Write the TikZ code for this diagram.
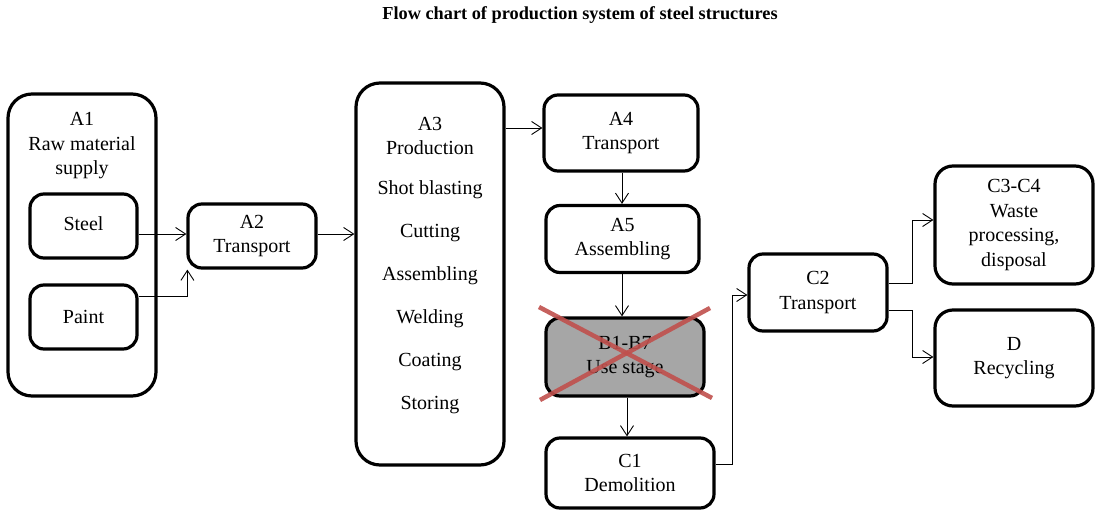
\documentclass[tikz,border=0pt]{standalone}
\usepackage{fontspec}
\setmainfont{Liberation Serif}
\usetikzlibrary{arrows.meta}
\definecolor{crossred}{RGB}{192,80,77}
\definecolor{usegray}{RGB}{166,166,166}
\tikzset{
  box/.style={draw=black, line width=3.2pt, rounded corners=14pt, inner sep=0pt},
  bigbox/.style={draw=black, line width=3.2pt, rounded corners=24pt, inner sep=0pt},
  txt/.style={align=center, inner sep=0pt, font=\fontsize{20}{24.5}\selectfont},
  conn/.style={line width=0.9pt, -{Straight Barb[length=10pt,width=13pt,line width=0.9pt]}},
  crossline/.style={crossred, line width=4.5pt, opacity=0.9}
}
\begin{document}
\begin{tikzpicture}[x=1pt,y=-1pt]
\useasboundingbox (0,0) rectangle (1102,519);
\node[font=\bfseries\fontsize{18.3}{20}\selectfont, inner sep=0pt] (title) at (580,15) {Flow chart of production system of steel structures};

% A1
\node[bigbox, minimum width=148pt, minimum height=302pt] (A1) at (82,245) {};
\node[txt] (A1t) at (82,146) {A1\\Raw material\\supply};
\node[box, minimum width=107pt, minimum height=64pt] (steel) at (83.5,226) {};
\node[txt] (steelt) at (83.5,224) {Steel};
\node[box, minimum width=107pt, minimum height=64pt] (paint) at (83.5,317) {};
\node[txt] (paintt) at (83.5,317) {Paint};

% A2
\node[box, txt, minimum width=128pt, minimum height=64pt] (A2) at (252,236) {A2\\Transport};

% A3
\node[bigbox, minimum width=148pt, minimum height=382pt] (A3) at (430,274) {};
\node[txt] (A3t) at (430,136) {A3\\Production};
\node[txt] (s1) at (430,190) {Shot blasting};
\node[txt] (s2) at (430,233) {Cutting};
\node[txt] (s3) at (430,276) {Assembling};
\node[txt] (s4) at (430,319) {Welding};
\node[txt] (s5) at (430,362) {Coating};
\node[txt] (s6) at (430,405) {Storing};

% A4, A5, B, C1
\node[box, txt, minimum width=154pt, minimum height=76pt] (A4) at (621,133) {A4\\Transport};
\node[box, txt, minimum width=153pt, minimum height=67pt] (A5) at (622.5,239) {A5\\Assembling};
\node[box, txt, fill=usegray, minimum width=158pt, minimum height=78pt] (B) at (625,357) {B1-B7\\Use stage};
\node[box, txt, minimum width=168pt, minimum height=70pt] (C1) at (630,473) {C1\\Demolition};

% cross over B
\coordinate (x1) at (539,307);
\coordinate (x2) at (712,398);
\coordinate (x3) at (710,308);
\coordinate (x4) at (540,400);
\draw[crossline] (x1) -- (x2);
\draw[crossline] (x3) -- (x4);

% C2, C3-C4, D
\node[box, txt, minimum width=138pt, minimum height=77pt] (C2) at (818,292.5) {C2\\Transport};
\node[box, txt, rounded corners=18pt, minimum width=158pt, minimum height=118pt] (C3) at (1014,225) {C3-C4\\Waste\\processing,\\disposal};
\node[box, txt, rounded corners=18pt, minimum width=158pt, minimum height=96pt] (D) at (1014,358) {D\\Recycling};

% connectors
\draw[conn] (steel.east |- 0,234) -- (A2.west |- 0,234);
\draw[conn] (paint.east |- 0,296) -| ([xshift=1pt]A2.south west);
\draw[conn] (A2.east |- 0,234) -- (A3.west |- 0,234);
\draw[conn] (A3.east |- 0,128) -- (A4.west |- 0,128);
\draw[conn] (A4.south -| 622,0) -- (A5.north -| 622,0);
\draw[conn] (A5.south -| 622,0) -- (B.north -| 622,0);
\draw[conn] (B.south -| 627,0) -- (C1.north -| 627,0);
\draw[conn] (C1.east |- 0,464) -| (732,380) |- (C2.west |- 0,295);
\draw[conn] (C2.east |- 0,283) -| (912,250) |- (C3.west |- 0,220);
\draw[conn] (C2.east |- 0,310) -| (912,330) |- (D.west |- 0,357);
\end{tikzpicture}
\end{document}
